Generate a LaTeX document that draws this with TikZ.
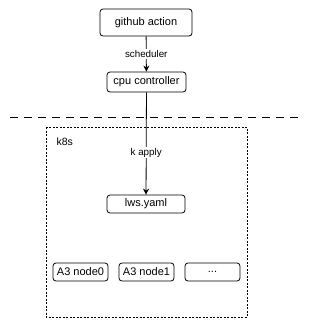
\documentclass[tikz,border=0pt]{standalone}
\usepackage{fontspec}
\setmainfont{Liberation Sans}
\usetikzlibrary{arrows.meta}
\begin{document}
\begin{tikzpicture}[x=1pt,y=-1pt,
  box/.style={draw, rounded corners=3pt, line width=0.8pt, font=\fontsize{11}{13}\selectfont, inner sep=0pt},
  lbl/.style={fill=white, font=\fontsize{9.8}{11}\selectfont, inner sep=1pt},
  conn/.style={line width=0.8pt, -{Stealth[length=6pt,width=6pt]}}]
\useasboundingbox (0,0) rectangle (312,327);
\node[box, minimum width=92pt, minimum height=27pt] (gh) at (146,22.5) {github action};
\node[box, minimum width=79pt, minimum height=20pt] (cpu) at (146.5,82) {cpu controller};
\draw[dashed, dash pattern=on 8pt off 6pt, line width=0.7pt] (10,117) -- (302,117);
\draw[dashed, dash pattern=on 2pt off 1.5pt, line width=0.8pt] (46,127) rectangle (247,317);
\node[anchor=west, font=\fontsize{10.5}{12}\selectfont] (k8s) at (53,142) {k8s};
\node[box, minimum width=78pt, minimum height=18pt] (lws) at (146,204) {lws.yaml};
\node[box, minimum width=55pt, minimum height=18pt] (n0) at (80.5,272) {A3 node0};
\node[box, minimum width=55pt, minimum height=18pt] (n1) at (146.5,272) {A3 node1};
\node[box, minimum width=55pt, minimum height=18pt] (n2) at (212.5,272) {...};
\draw[conn] (gh) -- node[lbl] {scheduler} (cpu);
\draw[conn] (cpu) -- node[lbl, pos=0.59] {k apply} (lws);
\end{tikzpicture}
\end{document}
